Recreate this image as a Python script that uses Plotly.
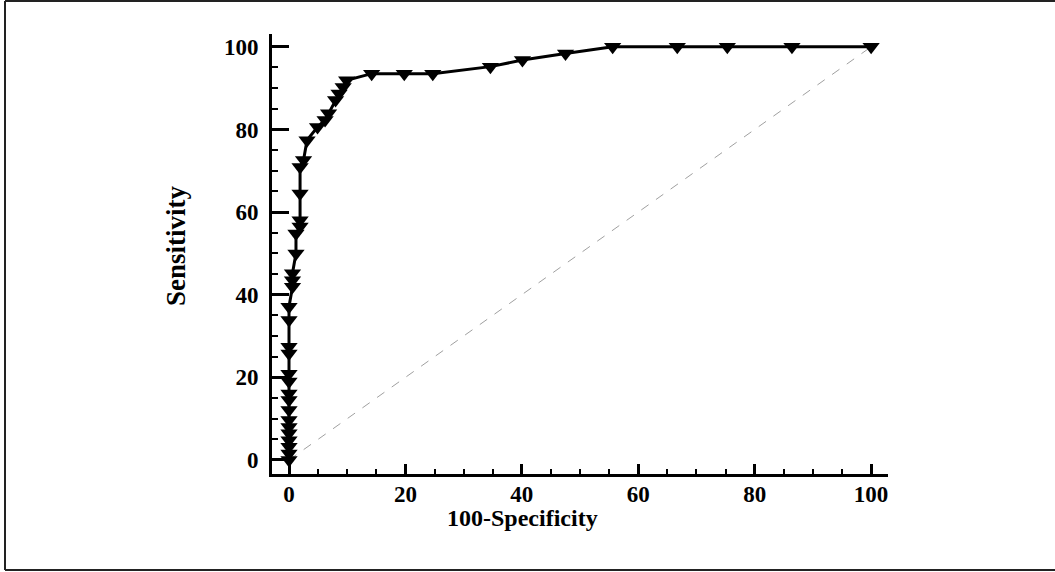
import plotly.graph_objects as go

# ROC curve points
fpr = [0, 0, 0, 0, 0, 0, 0, 0, 0, 0, 0, 0, 0, 0, 0, 0,
       0.6, 0.6, 0.6, 1.2, 1.2, 1.9, 1.9, 1.9, 1.9, 2.5, 3.1, 4.9, 6.2, 6.8,
       8.0, 8.6, 9.3, 9.9, 14.2, 19.8, 24.7, 34.6, 40.1, 47.5, 55.6, 66.7,
       75.3, 86.4, 100]
sens = [0, 1.6, 3.2, 4.8, 6.5, 8.0, 9.7, 12.1, 14.5, 16.1, 19.0, 20.9, 25.8,
        27.4, 33.9, 37.1, 41.9, 43.5, 45.2, 50.0, 54.8, 56.5, 58.0, 64.5, 70.9,
        72.6, 77.4, 80.6, 82.3, 83.9, 87.1, 88.7, 90.3, 91.9, 93.5, 93.5, 93.5,
        95.2, 96.8, 98.4, 100, 100, 100, 100, 100]
diag = [0, 100]
ticks = [0, 20, 40, 60, 80, 100]

fig = go.Figure()
fig.add_trace(go.Scatter(x=diag, y=diag, mode="lines",
                         line=dict(color="#a0a0a0", width=1, dash="dash"),
                         showlegend=False, hoverinfo="skip"))
fig.add_trace(go.Scatter(x=fpr, y=sens, mode="lines+markers",
                         line=dict(color="black", width=3),
                         marker=dict(symbol="triangle-down", size=15, color="black"),
                         showlegend=False))

tickfont = dict(family="Liberation Serif", size=23, color="black", weight="bold")

fig.update_layout(
    width=1055, height=572,
    margin=dict(l=272, r=167, t=34, b=98),
    paper_bgcolor="white", plot_bgcolor="white",
    xaxis=dict(range=[-2.92, 102.9], tickvals=ticks, ticktext=[str(t) for t in ticks],
               showgrid=False, zeroline=False, showline=True, linecolor="black",
               linewidth=3, ticks="inside", ticklen=10, tickwidth=2.5,
               tickcolor="black", tickfont=tickfont, ticklabelstandoff=-3,
               minor=dict(dtick=5, tick0=0, ticks="inside", ticklen=5,
                          tickwidth=1.5, tickcolor="black", showgrid=False)),
    yaxis=dict(range=[-3.39, 103.1], tickvals=ticks, ticktext=[str(t) for t in ticks],
               showgrid=False, zeroline=False, showline=True, linecolor="black",
               linewidth=3, ticks="inside", ticklen=17, tickwidth=2.5,
               tickcolor="black", tickfont=tickfont, ticklabelstandoff=6,
               minor=dict(dtick=5, tick0=0, ticks="inside", ticklen=6,
                          tickwidth=1.5, tickcolor="black", showgrid=False)),
    annotations=[
        dict(text="100-Specificity", xref="paper", yref="paper",
             x=(522 - 272) / 616, y=(474 - 518) / 440, showarrow=False,
             xanchor="center", yanchor="middle",
             font=dict(family="Liberation Serif", size=24, color="black", weight="bold")),
        dict(text="Sensitivity", xref="paper", yref="paper",
             x=(176 - 272) / 616, y=(474 - 246) / 440, showarrow=False,
             xanchor="center", yanchor="middle", textangle=-90,
             font=dict(family="Liberation Serif", size=27, color="black", weight="bold")),
    ],
    shapes=[
        dict(type="line", xref="paper", yref="paper",
             x0=(5 - 272) / 616, x1=(5 - 272) / 616,
             y0=(474 - 1) / 440, y1=(474 - 570) / 440,
             line=dict(color="#222222", width=2)),
        dict(type="line", xref="paper", yref="paper",
             x0=(5 - 272) / 616, x1=(1060 - 272) / 616,
             y0=(474 - 1) / 440, y1=(474 - 1) / 440,
             line=dict(color="#222222", width=2)),
        dict(type="line", xref="paper", yref="paper",
             x0=(5 - 272) / 616, x1=(1060 - 272) / 616,
             y0=(474 - 570) / 440, y1=(474 - 570) / 440,
             line=dict(color="#222222", width=2)),
    ],
)

fig.write_html("out.html", config={"displayModeBar": False},
               post_script="document.body.style.margin='0';document.body.style.overflow='hidden';")
